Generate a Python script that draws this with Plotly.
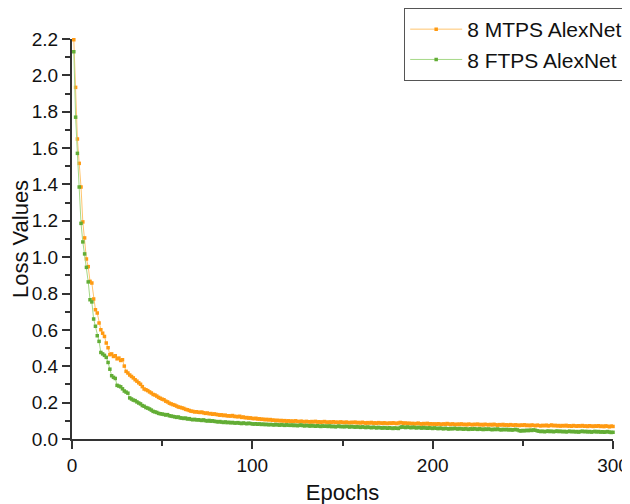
import plotly.graph_objects as go

# loss per epoch
epochs = list(range(1, 301))

mtps_loss = [
  2.196, 1.934, 1.650, 1.516, 1.386, 1.194, 1.106, 0.990, 0.948, 0.867,
  0.858, 0.770, 0.711, 0.693, 0.638, 0.601, 0.582, 0.564, 0.528, 0.502,
  0.464, 0.468, 0.454, 0.458, 0.441, 0.445, 0.432, 0.436, 0.401, 0.372,
  0.363, 0.352, 0.344, 0.336, 0.326, 0.318, 0.309, 0.301, 0.288, 0.275,
  0.271, 0.266, 0.259, 0.253, 0.245, 0.242, 0.236, 0.229, 0.224, 0.219,
  0.216, 0.208, 0.204, 0.197, 0.193, 0.189, 0.186, 0.181, 0.176, 0.174,
  0.171, 0.168, 0.163, 0.161, 0.157, 0.153, 0.152, 0.149, 0.150, 0.147,
  0.146, 0.148, 0.144, 0.141, 0.143, 0.139, 0.140, 0.136, 0.138, 0.135,
  0.134, 0.131, 0.133, 0.129, 0.131, 0.127, 0.128, 0.126, 0.129, 0.124,
  0.124, 0.122, 0.125, 0.119, 0.121, 0.117, 0.118, 0.115, 0.116, 0.113,
  0.112, 0.114, 0.110, 0.111, 0.108, 0.109, 0.106, 0.108, 0.105, 0.107,
  0.103, 0.104, 0.101, 0.103, 0.100, 0.102, 0.099, 0.101, 0.098, 0.100,
  0.097, 0.099, 0.096, 0.100, 0.097, 0.095, 0.098, 0.096, 0.094, 0.097,
  0.095, 0.093, 0.096, 0.094, 0.097, 0.093, 0.095, 0.092, 0.094, 0.096,
  0.093, 0.091, 0.094, 0.092, 0.095, 0.091, 0.093, 0.090, 0.094, 0.092,
  0.090, 0.093, 0.091, 0.089, 0.092, 0.090, 0.093, 0.089, 0.091, 0.088,
  0.092, 0.089, 0.087, 0.090, 0.088, 0.091, 0.087, 0.089, 0.086, 0.090,
  0.088, 0.086, 0.089, 0.087, 0.085, 0.088, 0.086, 0.089, 0.087, 0.085,
  0.088, 0.091, 0.089, 0.086, 0.088, 0.085, 0.087, 0.084, 0.086, 0.083,
  0.085, 0.087, 0.084, 0.082, 0.085, 0.083, 0.086, 0.082, 0.084, 0.082,
  0.083, 0.081, 0.084, 0.082, 0.080, 0.083, 0.081, 0.085, 0.082, 0.080,
  0.083, 0.081, 0.079, 0.082, 0.080, 0.083, 0.079, 0.081, 0.078, 0.082,
  0.080, 0.078, 0.081, 0.079, 0.082, 0.078, 0.080, 0.077, 0.081, 0.079,
  0.078, 0.080, 0.077, 0.081, 0.078, 0.076, 0.079, 0.077, 0.080, 0.076,
  0.078, 0.075, 0.079, 0.077, 0.075, 0.078, 0.076, 0.074, 0.077, 0.075,
  0.078, 0.074, 0.076, 0.073, 0.077, 0.075, 0.073, 0.076, 0.074, 0.072,
  0.075, 0.073, 0.076, 0.072, 0.074, 0.077, 0.073, 0.075, 0.072, 0.074,
  0.071, 0.074, 0.072, 0.075, 0.071, 0.073, 0.070, 0.074, 0.072, 0.070,
  0.073, 0.071, 0.074, 0.070, 0.072, 0.069, 0.073, 0.071, 0.069, 0.072,
  0.070, 0.073, 0.069, 0.071, 0.068, 0.072, 0.070, 0.067, 0.071, 0.069,
]

ftps_loss = [
  2.130, 1.770, 1.571, 1.386, 1.186, 1.084, 1.018, 0.944, 0.864, 0.766,
  0.754, 0.660, 0.620, 0.568, 0.537, 0.476, 0.468, 0.460, 0.449, 0.421,
  0.384, 0.348, 0.339, 0.333, 0.295, 0.291, 0.287, 0.276, 0.264, 0.258,
  0.252, 0.226, 0.220, 0.214, 0.211, 0.204, 0.198, 0.193, 0.184, 0.180,
  0.173, 0.170, 0.165, 0.159, 0.152, 0.149, 0.146, 0.141, 0.139, 0.137,
  0.135, 0.132, 0.134, 0.128, 0.126, 0.124, 0.122, 0.119, 0.121, 0.116,
  0.115, 0.113, 0.115, 0.110, 0.112, 0.108, 0.106, 0.108, 0.105, 0.106,
  0.104, 0.102, 0.105, 0.101, 0.099, 0.102, 0.098, 0.100, 0.097, 0.096,
  0.094, 0.096, 0.093, 0.091, 0.094, 0.090, 0.092, 0.089, 0.091, 0.088,
  0.088, 0.090, 0.087, 0.085, 0.088, 0.086, 0.084, 0.087, 0.085, 0.083,
  0.082, 0.084, 0.081, 0.083, 0.080, 0.082, 0.079, 0.081, 0.078, 0.080,
  0.079, 0.077, 0.080, 0.078, 0.076, 0.079, 0.077, 0.075, 0.078, 0.076,
  0.075, 0.077, 0.074, 0.076, 0.073, 0.075, 0.077, 0.074, 0.072, 0.075,
  0.073, 0.071, 0.074, 0.072, 0.070, 0.073, 0.071, 0.069, 0.072, 0.070,
  0.071, 0.069, 0.072, 0.068, 0.070, 0.067, 0.069, 0.071, 0.068, 0.069,
  0.067, 0.070, 0.068, 0.066, 0.069, 0.067, 0.065, 0.068, 0.066, 0.064,
  0.067, 0.065, 0.063, 0.066, 0.064, 0.062, 0.065, 0.063, 0.061, 0.064,
  0.062, 0.060, 0.063, 0.061, 0.059, 0.062, 0.060, 0.058, 0.061, 0.059,
  0.058, 0.064, 0.067, 0.065, 0.063, 0.066, 0.064, 0.062, 0.065, 0.063,
  0.061, 0.064, 0.062, 0.060, 0.063, 0.061, 0.059, 0.062, 0.060, 0.058,
  0.061, 0.059, 0.057, 0.060, 0.058, 0.056, 0.059, 0.057, 0.055, 0.058,
  0.056, 0.059, 0.057, 0.055, 0.058, 0.056, 0.054, 0.057, 0.055, 0.053,
  0.056, 0.054, 0.057, 0.055, 0.053, 0.056, 0.054, 0.052, 0.055, 0.053,
  0.055, 0.053, 0.051, 0.054, 0.052, 0.055, 0.052, 0.050, 0.053, 0.051,
  0.053, 0.050, 0.052, 0.049, 0.051, 0.053, 0.050, 0.046, 0.044, 0.047,
  0.045, 0.048, 0.046, 0.049, 0.047, 0.050, 0.048, 0.045, 0.043, 0.041,
  0.043, 0.040, 0.042, 0.044, 0.041, 0.043, 0.040, 0.042, 0.044, 0.041,
  0.043, 0.040, 0.042, 0.039, 0.041, 0.043, 0.040, 0.042, 0.039, 0.041,
  0.038, 0.041, 0.043, 0.040, 0.042, 0.039, 0.041, 0.038, 0.040, 0.042,
  0.039, 0.041, 0.038, 0.040, 0.037, 0.039, 0.041, 0.038, 0.036, 0.037,
]

FONT = "Liberation Sans, Arial, sans-serif"


def add_loss_trace(figure, data, name, line_color, marker_color):
  figure.add_trace(go.Scatter(
    x=epochs,
    y=data,
    name=name,
    mode="lines+markers",
    line=dict(width=1, color=line_color),
    marker=dict(symbol="square", size=3.5, color=marker_color),
    cliponaxis=False
  ))


fig = go.Figure()
add_loss_trace(fig, mtps_loss, "8 MTPS AlexNet", "#ffc46e", "#ff9a12")
add_loss_trace(fig, ftps_loss, "8 FTPS AlexNet", "#a5d886", "#62ad35")

axis_style = dict(
  showline=True, linecolor="#333333", linewidth=2,
  ticks="outside", ticklen=8, tickwidth=2, tickcolor="#333333",
  showgrid=False, zeroline=False, mirror=False,
  tickfont=dict(family=FONT, size=19, color="#111111"),
)

# the page body adds an 8px offset, so margins are shifted by that much
fig.update_layout(
  width=630, height=504,
  margin=dict(l=64, r=25, t=31, b=73, autoexpand=False),
  paper_bgcolor="white", plot_bgcolor="white",
  font=dict(family=FONT, color="#111111"),
  showlegend=True,
  legend=dict(
    x=0.614, y=1.0775, xanchor="left", yanchor="top",
    bordercolor="#555555", borderwidth=1, bgcolor="white",
    font=dict(family=FONT, size=21, color="#111111"),
    itemwidth=52, tracegroupgap=0
  ),
  xaxis=dict(
    range=[0, 300], tickvals=[0, 100, 200, 300],
    minor=dict(ticks="outside", ticklen=5, tickwidth=2, tickcolor="#333333", dtick=50),
    title=dict(text="Epochs", font=dict(family=FONT, size=22), standoff=10),
    **axis_style
  ),
  yaxis=dict(
    range=[0, 2.2], dtick=0.2, tickformat=".1f",
    minor=dict(ticks="outside", ticklen=5, tickwidth=2, tickcolor="#333333", dtick=0.1),
    title=dict(text="Loss Values", font=dict(family=FONT, size=22), standoff=2),
    **axis_style
  ),
)

fig.write_html("out.html")
